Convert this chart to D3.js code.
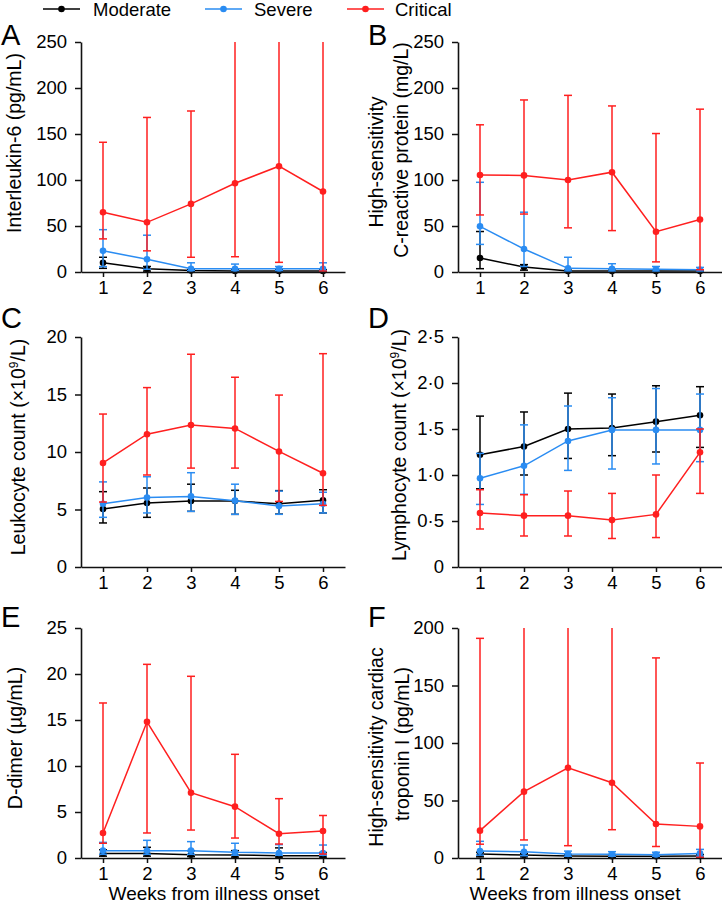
<!DOCTYPE html>
<html>
<head>
<meta charset="utf-8">
<script src="https://cdn.jsdelivr.net/npm/d3@7"></script>
<style>
  html, body { margin: 0; padding: 0; background: #fff; }
  svg text { font-family: "Liberation Sans", Arial, sans-serif; fill: #000; }
</style>
</head>
<body>
<svg id="chart" width="722" height="905"></svg>
<script>
const weeks = [1, 2, 3, 4, 5, 6];
const groups = ["Moderate", "Severe", "Critical"];
const groupColors = ["#000000", "#2a8cf2", "#ff1f1f"];

// A: Interleukin-6 (pg/mL)
const il6Mod = [10, 3.6, 1.5, 1.2, 1.2, 1.2];
const il6ModLo = [4, 1, 0.5, 0.5, 0.5, 0.5];
const il6ModHi = [16, 6, 2.5, 2.5, 2.5, 2.5];
const il6Sev = [23, 13.8, 3.6, 3.6, 3.6, 3.6];
const il6SevLo = [5.8, 3, 1.5, 1.5, 1.5, 1.5];
const il6SevHi = [46, 40, 10, 8.6, 6, 10];
const il6Crit = [65, 54, 74, 96.5, 115, 87.5];
const il6CritLo = [36, 23, 16, 16.6, 10.5, 1];
const il6CritHi = [141, 168, 175, 300, 300, 300];

// B: hs-CRP (mg/L)
const crpMod = [15.2, 5.4, 1, 1, 1, 1];
const crpModLo = [3.6, 2, 0.3, 0.3, 0.3, 0.3];
const crpModHi = [44, 8, 2, 2, 2, 2];
const crpSev = [49.6, 25, 4, 3.6, 2.9, 2.5];
const crpSevLo = [30, 6, 1, 1, 1, 1];
const crpSevHi = [97.5, 65, 16, 9, 6, 5];
const crpCrit = [105.5, 105, 100, 108.5, 43.8, 57];
const crpCritLo = [62, 63, 48, 45, 11, 2.5];
const crpCritHi = [160, 187, 192, 180.5, 150.5, 177];

// C: Leukocyte count (x10^9/L)
const wbcMod = [5.04, 5.57, 5.74, 5.74, 5.5, 5.8];
const wbcModLo = [3.83, 4.32, 4.84, 4.58, 4.6, 4.7];
const wbcModHi = [6.55, 6.87, 7.2, 6.67, 6.64, 6.72];
const wbcSev = [5.5, 6.05, 6.14, 5.77, 5.3, 5.5];
const wbcSevLo = [4.32, 4.7, 4.84, 4.58, 4.58, 4.7];
const wbcSevHi = [7.4, 7.85, 8.2, 7.2, 6.6, 6.5];
const wbcCrit = [9.05, 11.55, 12.35, 12.05, 10.05, 8.15];
const wbcCritLo = [5.65, 8.0, 8.6, 8.6, 5.7, 5.36];
const wbcCritHi = [13.3, 15.6, 18.5, 16.5, 14.95, 18.55];

// D: Lymphocyte count (x10^9/L)
const lymMod = [1.22, 1.31, 1.5, 1.51, 1.58, 1.65];
const lymModLo = [0.85, 1.0, 1.18, 1.21, 1.25, 1.3];
const lymModHi = [1.64, 1.685, 1.89, 1.88, 1.97, 1.96];
const lymSev = [0.965, 1.10, 1.37, 1.49, 1.49, 1.49];
const lymSevLo = [0.68, 0.79, 1.05, 1.065, 1.12, 1.145];
const lymSevHi = [1.235, 1.545, 1.75, 1.84, 1.94, 1.88];
const lymCrit = [0.587, 0.558, 0.558, 0.51, 0.572, 1.246];
const lymCritLo = [0.413, 0.337, 0.337, 0.31, 0.32, 0.80];
const lymCritHi = [0.84, 0.786, 0.826, 0.80, 1.0, 1.5];

// E: D-dimer (µg/mL)
const ddMod = [0.5, 0.5, 0.36, 0.33, 0.25, 0.25];
const ddModLo = [0.2, 0.2, 0.15, 0.1, 0.1, 0.1];
const ddModHi = [0.9, 1.16, 0.8, 0.8, 1.1, 0.6];
const ddSev = [0.8, 0.8, 0.8, 0.62, 0.55, 0.55];
const ddSevLo = [0.4, 0.4, 0.4, 0.3, 0.3, 0.3];
const ddSevHi = [1.7, 1.92, 1.78, 1.6, 1.45, 1.41];
const ddCrit = [2.72, 14.8, 7.1, 5.58, 2.64, 2.93];
const ddCritLo = [1.6, 2.72, 3.04, 2.17, 1.52, 0.43];
const ddCritHi = [16.85, 21.05, 19.75, 11.27, 6.45, 4.62];

// F: hs cardiac troponin I (pg/mL)
const tnMod = [3.5, 2.6, 1.8, 1.5, 1.5, 1.8];
const tnModLo = [1, 1, 0.5, 0.5, 0.5, 0.5];
const tnModHi = [5, 4, 3, 3, 3, 3];
const tnSev = [6, 5.5, 3.5, 3.2, 2.9, 4];
const tnSevLo = [2.5, 2, 1.5, 1.5, 1.5, 1.5];
const tnSevHi = [14.5, 11.3, 6, 5.5, 5, 7.5];
const tnCrit = [23.8, 57.7, 78.5, 65.5, 29.6, 27.5];
const tnCritLo = [12, 15.7, 10.7, 24.6, 10, 0.6];
const tnCritHi = [191, 300, 300, 300, 174, 82.6];

// Tick labels
const ticksA = [0, 50, 100, 150, 200, 250];
const ticksC = [0, 5, 10, 15, 20];
const ticksD = [0, 0.5, 1.0, 1.5, 2.0, 2.5];
const ticksE = [0, 5, 10, 15, 20, 25];
const ticksF = [0, 50, 100, 150, 200];
const xTitle = "Weeks from illness onset";

const panels = [
  { letter: "A", col: 0, row: 0, max: 250, ticks: ticksA, fmt: d => d,
    series: [[il6Mod, il6ModLo, il6ModHi], [il6Sev, il6SevLo, il6SevHi], [il6Crit, il6CritLo, il6CritHi]],
    title: [{ parts: [["Interleukin-6 (pg/mL)"]], x: 21, cy: 143 }] },
  { letter: "B", col: 1, row: 0, max: 250, ticks: ticksA, fmt: d => d,
    series: [[crpMod, crpModLo, crpModHi], [crpSev, crpSevLo, crpSevHi], [crpCrit, crpCritLo, crpCritHi]],
    title: [{ parts: [["High-sensitivity"]], x: 383, cy: 162 }, { parts: [["C-reactive protein (mg/L)"]], x: 408, cy: 150 }] },
  { letter: "C", col: 0, row: 1, max: 20, ticks: ticksC, fmt: d => d,
    series: [[wbcMod, wbcModLo, wbcModHi], [wbcSev, wbcSevLo, wbcSevHi], [wbcCrit, wbcCritLo, wbcCritHi]],
    title: [{ parts: [["Leukocyte count (×10"], ["9", "sup"], ["/L)"]], x: 25, cy: 447 }] },
  { letter: "D", col: 1, row: 1, max: 2.5, ticks: ticksD, fmt: d => d === 0 ? "0" : d.toFixed(1).replace(".", "·"),
    series: [[lymMod, lymModLo, lymModHi], [lymSev, lymSevLo, lymSevHi], [lymCrit, lymCritLo, lymCritHi]],
    title: [{ parts: [["Lymphocyte count (×10"], ["9", "sup"], ["/L)"]], x: 406, cy: 445 }] },
  { letter: "E", col: 0, row: 2, max: 25, ticks: ticksE, fmt: d => d,
    series: [[ddMod, ddModLo, ddModHi], [ddSev, ddSevLo, ddSevHi], [ddCrit, ddCritLo, ddCritHi]],
    title: [{ parts: [["D-dimer (µg/mL)"]], x: 22, cy: 738 }], xTitle: { cx: 214 } },
  { letter: "F", col: 1, row: 2, max: 200, ticks: ticksF, fmt: d => d,
    series: [[tnMod, tnModLo, tnModHi], [tnSev, tnSevLo, tnSevHi], [tnCrit, tnCritLo, tnCritHi]],
    title: [{ parts: [["High-sensitivity cardiac"]], x: 383, cy: 747 }, { parts: [["troponin I (pg/mL)"]], x: 409, cy: 744 }], xTitle: { cx: 575 } }
];

const svg = d3.select("#chart");
const colX = [81, 458];
const rowY = [42, 337, 628];
const plotW = 264, plotH = 230;
const letterY = [45, 328, 627];
const letterX = [1, 368];

const fontTick = 18.5, fontTitle = 19.5;

panels.forEach((p, i) => {
  const x0 = colX[p.col], y0 = rowY[p.row];
  const x = d3.scaleLinear().domain([0.5, 6.5]).range([x0, x0 + plotW]);
  const y = d3.scaleLinear().domain([0, p.max]).range([y0 + plotH, y0]);

  const clipId = "clip" + i;
  svg.append("clipPath").attr("id", clipId)
    .append("rect").attr("x", x0 - 10).attr("y", y0).attr("width", plotW + 20).attr("height", plotH + 10);

  const g = svg.append("g").attr("clip-path", `url(#${clipId})`);

  p.series.forEach((s, si) => {
    const [vals, lo, hi] = s;
    const col = groupColors[si];
    const sg = g.append("g");
    sg.selectAll("line.eb").data(weeks).join("line")
      .attr("x1", d => x(d)).attr("x2", d => x(d))
      .attr("y1", (d, k) => y(lo[k])).attr("y2", (d, k) => y(hi[k]))
      .attr("stroke", col).attr("stroke-width", 1.5);
    sg.selectAll("line.capHi").data(weeks).join("line")
      .attr("x1", d => x(d) - 4).attr("x2", d => x(d) + 4)
      .attr("y1", (d, k) => y(hi[k])).attr("y2", (d, k) => y(hi[k]))
      .attr("stroke", col).attr("stroke-width", 1.5);
    sg.selectAll("line.capLo").data(weeks).join("line")
      .attr("x1", d => x(d) - 4).attr("x2", d => x(d) + 4)
      .attr("y1", (d, k) => y(lo[k])).attr("y2", (d, k) => y(lo[k]))
      .attr("stroke", col).attr("stroke-width", 1.5);
    const line = d3.line().x(d => x(d[0])).y(d => y(d[1]));
    sg.append("path").datum(weeks.map((w, k) => [w, vals[k]]))
      .attr("d", line).attr("fill", "none").attr("stroke", col).attr("stroke-width", 1.5);
    sg.selectAll("circle").data(weeks).join("circle")
      .attr("cx", d => x(d)).attr("cy", (d, k) => y(vals[k])).attr("r", 3.3)
      .attr("fill", col);
  });

  const yAxis = d3.axisLeft(y).tickValues(p.ticks).tickFormat(p.fmt).tickSize(6).tickPadding(8).tickSizeOuter(0);
  const ya = svg.append("g").attr("transform", `translate(${x0},0)`).call(yAxis);
  const xAxis = d3.axisBottom(x).tickValues(weeks).tickFormat(d => d).tickSize(5).tickPadding(4).tickSizeOuter(0);
  const xa = svg.append("g").attr("transform", `translate(0,${y0 + plotH})`).call(xAxis);
  [ya, xa].forEach(a => {
    a.select(".domain").attr("stroke", "#111").attr("stroke-width", 1.6);
    a.selectAll(".tick line").attr("stroke", "#111").attr("stroke-width", 1.5);
    a.selectAll(".tick text").attr("font-size", fontTick).attr("font-family", "Liberation Sans, Arial, sans-serif").attr("fill", "#000");
  });

  p.title.forEach(t => {
    const txt = svg.append("text")
      .attr("transform", `translate(${t.x},${t.cy}) rotate(-90)`)
      .attr("text-anchor", "middle")
      .attr("font-size", fontTitle);
    t.parts.forEach(pt => {
      if (pt[1] === "sup") {
        txt.append("tspan").attr("dy", -7).attr("font-size", 12).text(pt[0]);
      } else {
        const ts = txt.append("tspan").text(pt[0]);
        if (txt.selectAll("tspan").size() > 1) ts.attr("dy", 7);
      }
    });
  });

  if (p.xTitle) {
    svg.append("text").attr("x", p.xTitle.cx).attr("y", 900)
      .attr("text-anchor", "middle").attr("font-size", 19).text(xTitle);
  }

  svg.append("text").attr("x", letterX[p.col]).attr("y", letterY[p.row])
    .attr("font-size", 29).text(p.letter);
});

// legend
const legendX = [43, 205, 347];
const legendTextX = [93, 254, 395];
const lg = svg.append("g");
groups.forEach((name, i) => {
  lg.append("line").attr("x1", legendX[i]).attr("x2", legendX[i] + 37)
    .attr("y1", 9).attr("y2", 9).attr("stroke", groupColors[i]).attr("stroke-width", 1.5);
  lg.append("circle").attr("cx", legendX[i] + 18.5).attr("cy", 9).attr("r", 3.3).attr("fill", groupColors[i]);
  lg.append("text").attr("x", legendTextX[i]).attr("y", 16).attr("font-size", 18.5).text(name);
});
</script>
</body>
</html>
